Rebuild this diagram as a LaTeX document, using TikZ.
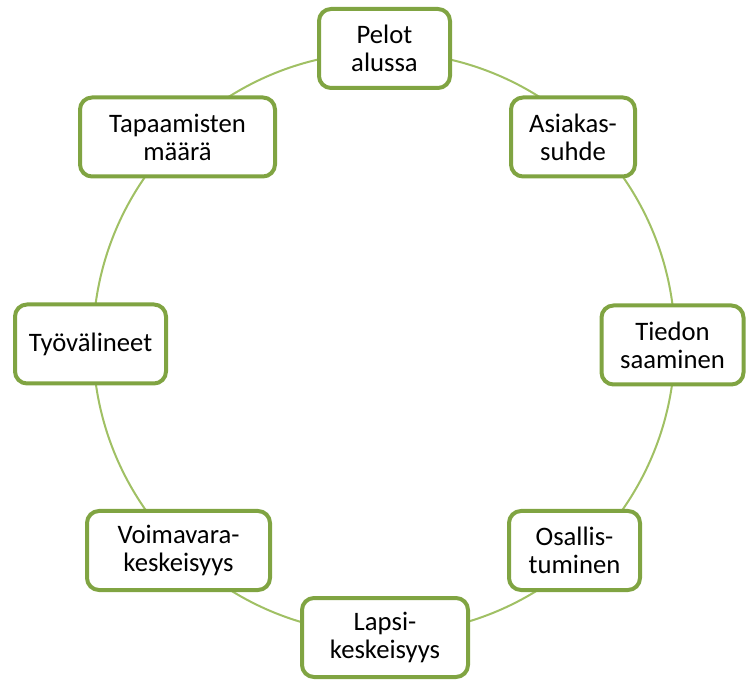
\documentclass[tikz,border=0pt]{standalone}
\usepackage{fontspec}
\setmainfont{Carlito}
\usepackage{xcolor}
\usepackage{tikz}
\usetikzlibrary{shapes,positioning,calc}

\definecolor{ringgreen}{RGB}{160,192,100}
\definecolor{boxgreen}{RGB}{128,164,66}

\tikzset{
    topic/.style={draw=boxgreen, line width=3pt, rounded corners=9pt, fill=white,
        align=center, minimum height=59.25pt, inner sep=0pt,
        font=\fontsize{20}{21}\selectfont},
    ring/.style={draw=ringgreen, line width=1.5pt}
}

\begin{document}
\begin{tikzpicture}[x=0.75pt, y=-0.75pt]
    \useasboundingbox (0,0) rectangle (747,684);

    \coordinate (mid) at (384,343);
    \draw[ring] (mid) circle[x radius=291, y radius=291];

    % widths in pt (px*0.75)
    \node[topic, minimum width=98.25pt]  (pelot)   at (384.5,48.5)  {Pelot\\alussa};
    \node[topic, minimum width=93pt]     (asiakas) at (573,137)     {Asiakas-\\suhde};
    \node[topic, minimum width=106.5pt]  (tiedon)  at (672.5,345)   {Tiedon\\saaminen};
    \node[topic, minimum width=98.25pt]  (osallis) at (574.5,550.5) {Osallis-\\tuminen};
    \node[topic, minimum width=124.5pt]  (lapsi)   at (385,637.5)   {Lapsi-\\keskeisyys};
    \node[topic, minimum width=137.25pt] (voima)   at (178.5,550.5) {Voimavara-\\keskeisyys};
    \node[topic, minimum width=113.25pt] (tyo)     at (90.5,344)    {Työvälineet};
    \node[topic, minimum width=146.25pt] (tapaam)  at (177.5,137)   {Tapaamisten\\määrä};
\end{tikzpicture}
\end{document}
